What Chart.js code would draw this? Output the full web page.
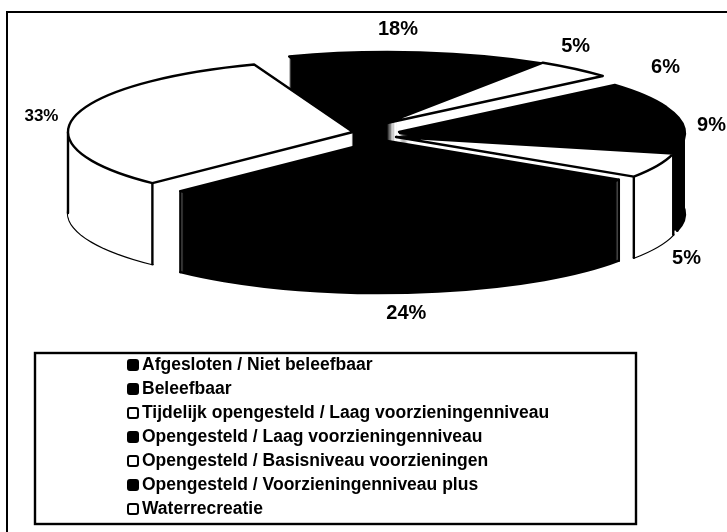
<!DOCTYPE html>
<html><head><meta charset="utf-8">
<style>html,body{margin:0;padding:0;background:#fff}canvas{display:block}</style>
<script src="https://cdn.jsdelivr.net/npm/chart.js@4"></script></head>
<body><div style="width:727px;height:532px;position:relative"><canvas id="c"></canvas></div>
<script>
const categories = ['Afgesloten / Niet beleefbaar','Beleefbaar','Tijdelijk opengesteld / Laag voorzieningenniveau','Opengesteld / Laag voorzieningenniveau','Opengesteld / Basisniveau voorzieningen','Opengesteld / Voorzieningenniveau plus','Waterrecreatie'];
const shares = [6, 9, 5, 24, 33, 18, 5];
const sliceColors = ['#000','#000','#fff','#000','#fff','#000','#fff'];
const sliceShift = [[14,-1],[15,0],[11,4],[-4,7],[-32,-1],[3,-9],[2,-10]];
const labelSizes = [20, 20, 20, 20, 17, 20, 20];
const labelNudges = [[21,-28],[27,-3],[29,12],[-4,21],[-33,0],[-22,-23],[1,-22]];

const CX=385, CY=133, RX=285, RY=72, DEPTH=81, WARP=0.19, FRONT=175*Math.PI/180;
// perspective: slices nearest the viewer open up, the far ones close down
const warp = a => { const u=a+Math.PI/2; return a+WARP*Math.sin(u-FRONT); };

const pie3d = {
  id:'pie3d',
  beforeDatasetsDraw(chart){
    const ctx=chart.ctx, els=chart.getDatasetMeta(0).data;
    const slices=els.map((el,i)=>{
      const s=warp(el.startAngle), e=warp(el.endAngle), m=(el.startAngle+el.endAngle)/2;
      return {i,s,e,m,ax:CX+sliceShift[i][0],ay:CY+sliceShift[i][1]};
    });
    const path=(sl,dy,closed)=>{
      ctx.beginPath();
      if(closed) ctx.moveTo(sl.ax,sl.ay+dy);
      ctx.ellipse(sl.ax,sl.ay+dy,RX,RY,0,sl.s,sl.e);
      if(closed) ctx.closePath();
    };
    ctx.save(); ctx.lineJoin='round'; ctx.lineCap='round';
    [...slices].sort((a,b)=>Math.sin(a.m)-Math.sin(b.m)).forEach(sl=>{
      const col=sliceColors[sl.i];
      ctx.strokeStyle='#000'; ctx.lineWidth=2.4; ctx.fillStyle=col;
      path(sl,DEPTH,false); ctx.stroke();
      for(let d=DEPTH;d>=0;d--){ path(sl,d,true); ctx.fill(); }
      const corners=[sl.s,sl.e];
      if(sl.s<Math.PI && sl.e>Math.PI) corners.push(Math.PI);
      corners.forEach(a=>{
        if(Math.sin(a)<-0.2) return;
        const x=sl.ax+RX*Math.cos(a), y=sl.ay+RY*Math.sin(a);
        ctx.beginPath(); ctx.moveTo(x,y); ctx.lineTo(x,y+DEPTH); ctx.stroke();
      });
      path(sl,0,true); ctx.fill(); ctx.stroke();
    });
    ctx.fillStyle='#000'; ctx.textAlign='center'; ctx.textBaseline='middle';
    slices.forEach(sl=>{
      const mid=(sl.s+sl.e)/2, front=Math.sin(mid)>0.2;
      const x=sl.ax+RX*Math.cos(mid)+labelNudges[sl.i][0];
      const y=sl.ay+RY*Math.sin(mid)+(front?DEPTH:0)+labelNudges[sl.i][1];
      ctx.font='bold '+labelSizes[sl.i]+'px "Liberation Sans"';
      ctx.fillText(shares[sl.i]+'%',x,y);
    });
    ctx.restore();
    return false;
  }
};
const frame = {
  id:'frame',
  afterDraw(chart){
    const ctx=chart.ctx;
    ctx.save(); ctx.strokeStyle='#000'; ctx.lineWidth=2;
    ctx.beginPath(); ctx.moveTo(7,532); ctx.lineTo(7,12); ctx.lineTo(727,12); ctx.stroke();
    ctx.lineWidth=2.4;
    ctx.strokeRect(35,353,601,171);
    ctx.font='bold 17.5px "Liberation Sans"'; ctx.textBaseline='middle'; ctx.textAlign='left';
    ctx.lineWidth=2;
    categories.forEach((t,i)=>{
      const y=365+i*24;
      ctx.beginPath(); ctx.roundRect(128,y-5,10,10,2);
      ctx.fillStyle=sliceColors[i]; ctx.fill(); ctx.stroke();
      ctx.fillStyle='#000'; ctx.fillText(t,142,y);
    });
    ctx.restore();
  }
};
new Chart(document.getElementById('c'),{
  type:'pie',
  data:{labels:categories,datasets:[{data:shares,backgroundColor:sliceColors,borderWidth:0}]},
  options:{responsive:true,maintainAspectRatio:false,animation:false,rotation:59,
    plugins:{legend:{display:false},tooltip:{enabled:false}}},
  plugins:[pie3d,frame]
});
</script></body></html>
